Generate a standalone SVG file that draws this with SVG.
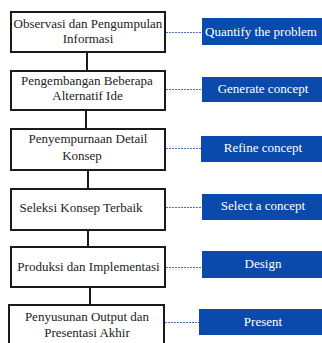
<svg xmlns="http://www.w3.org/2000/svg" width="322" height="343" viewBox="0 0 322 343">
<defs>
<style>
.box{fill:#fff;stroke:#1a1a1a;stroke-width:2}
.tag{fill:#0a4aad}
.link{stroke:#1a1a1a;stroke-width:2;fill:none}
.dash{stroke:#4a6fc4;stroke-width:1;stroke-dasharray:2 1;fill:none}
</style>
</defs>
<rect width="322" height="343" fill="#fff"/>
<g id="connectors">
<line class="link" x1="87" y1="53" x2="87" y2="70"/>
<line class="link" x1="86" y1="111" x2="86" y2="128"/>
<line class="link" x1="88" y1="171" x2="88" y2="188"/>
<line class="link" x1="88" y1="231" x2="88" y2="246"/>
<line class="link" x1="90" y1="288" x2="90" y2="304"/>
<line class="dash" x1="166" y1="32.5" x2="202" y2="32.5"/>
<line class="dash" x1="166" y1="89.5" x2="202" y2="89.5"/>
<line class="dash" x1="166" y1="148.5" x2="201" y2="148.5"/>
<line class="dash" x1="166" y1="207.5" x2="202" y2="207.5"/>
<line class="dash" x1="166" y1="267.5" x2="202" y2="267.5"/>
<line class="dash" x1="165" y1="322.5" x2="199" y2="322.5"/>
</g>
<g id="n1"><rect class="box" x="11" y="12" width="154" height="40"/><text font-family="Liberation Serif" font-size="13" fill="#222" text-anchor="middle" x="88" y="28">Observasi dan Pengumpulan</text><text font-family="Liberation Serif" font-size="13" fill="#222" text-anchor="middle" x="88" y="43">Informasi</text></g>
<g id="n2"><rect class="box" x="11" y="71" width="154" height="39"/><text font-family="Liberation Serif" font-size="13" fill="#222" text-anchor="middle" x="87" y="85">Pengembangan Beberapa</text><text font-family="Liberation Serif" font-size="13" fill="#222" text-anchor="middle" x="87.5" y="100">Alternatif Ide</text></g>
<g id="n3"><rect class="box" x="11" y="129" width="154" height="41"/><text font-family="Liberation Serif" font-size="13" fill="#222" text-anchor="middle" x="88" y="143">Penyempurnaan Detail</text><text font-family="Liberation Serif" font-size="13" fill="#222" text-anchor="middle" x="82" y="160">Konsep</text></g>
<g id="n4"><rect class="box" x="11" y="189" width="154" height="41"/><text font-family="Liberation Serif" font-size="13" fill="#222" text-anchor="middle" x="81" y="212">Seleksi Konsep Terbaik</text></g>
<g id="n5"><rect class="box" x="11" y="247" width="154" height="40"/><text font-family="Liberation Serif" font-size="13" fill="#222" text-anchor="middle" x="88.5" y="271">Produksi dan Implementasi</text></g>
<g id="n6"><rect class="box" x="9" y="305" width="155" height="44"/><text font-family="Liberation Serif" font-size="13" fill="#222" text-anchor="middle" x="87" y="321">Penyusunan Output dan</text><text font-family="Liberation Serif" font-size="13" fill="#222" text-anchor="middle" x="87" y="337">Presentasi Akhir</text></g>
<g id="b1"><rect class="tag" x="202" y="18" width="120" height="27"/><text font-family="Liberation Serif" font-size="13" fill="#fff" text-anchor="middle" x="261" y="36">Quantify the problem</text></g>
<g id="b2"><rect class="tag" x="202" y="77" width="120" height="25"/><text font-family="Liberation Serif" font-size="13" fill="#fff" text-anchor="middle" x="263" y="93">Generate concept</text></g>
<g id="b3"><rect class="tag" x="201" y="136" width="121" height="26"/><text font-family="Liberation Serif" font-size="13" fill="#fff" text-anchor="middle" x="263" y="152">Refine concept</text></g>
<g id="b4"><rect class="tag" x="202" y="194" width="120" height="26"/><text font-family="Liberation Serif" font-size="13" fill="#fff" text-anchor="middle" x="263" y="210">Select a concept</text></g>
<g id="b5"><rect class="tag" x="202" y="251" width="120" height="27"/><text font-family="Liberation Serif" font-size="13" fill="#fff" text-anchor="middle" x="263" y="268">Design</text></g>
<g id="b6"><rect class="tag" x="199" y="309" width="123" height="26"/><text font-family="Liberation Serif" font-size="13" fill="#fff" text-anchor="middle" x="263" y="326">Present</text></g>
</svg>
